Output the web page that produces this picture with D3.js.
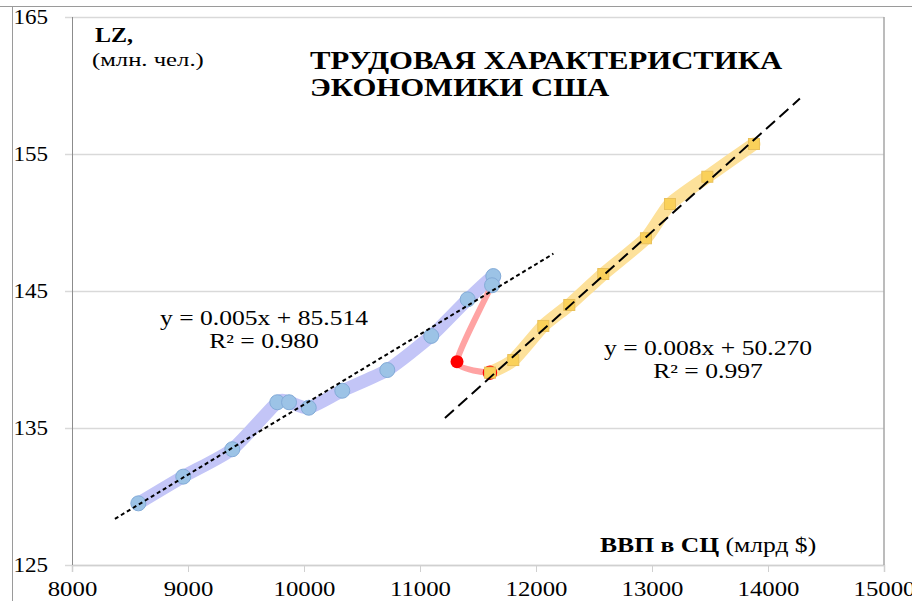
<!DOCTYPE html>
<html>
<head>
<meta charset="utf-8">
<script src="https://cdn.jsdelivr.net/npm/d3@7"></script>
<style>
  html, body { margin: 0; padding: 0; background: #fff; }
  svg { display: block; }
  text { font-family: "Liberation Serif", "Times New Roman", serif; fill: #000; }
</style>
</head>
<body>
<svg id="chart" width="912" height="601"></svg>
<script>
// ВВП (млрд $) и занятость LZ (млн. чел.)
const gdpA = [8572, 8959, 9382, 9770, 9871, 10041, 10330, 10718, 11097, 11411, 11632, 11621];
const lzA  = [129.5, 131.45, 133.45, 136.88, 136.88, 136.48, 137.72, 139.23, 141.72, 144.39, 146.09, 145.42];

const gdpCrisis = [11621, 11319, 11603];
const lzCrisis  = [145.42, 139.84, 139.04];

const gdpB = [11603, 11804, 12063, 12287, 12580, 12948, 13155, 13477, 13879];
const lzB  = [139.04, 139.96, 142.45, 143.98, 146.24, 148.85, 151.35, 153.34, 155.73];

// linear trend coefficients, R², and the x-span each trend line covers
const trendA = [0.00512, 85.514];
const trendB = [0.00762, 50.270];
const r2 = [0.980, 0.997];
const trendSpanA = [8370, 12150];
const trendSpanB = [11215, 14275];

const xTicks = [8000, 9000, 10000, 11000, 12000, 13000, 14000, 15000];
const yTicks = [125, 135, 145, 155, 165];

const svg = d3.select("#chart");
const plot = { left: 72, right: 884, top: 17, bottom: 565 };

const x = d3.scaleLinear().domain([8000, 15000]).range([plot.left, plot.right]);
const y = d3.scaleLinear().domain([125, 165]).range([plot.bottom, plot.top]);

// wide-set serif text: anchored at (px, py) and stretched horizontally by sx
function wideText(px, py, size, sx, anchor) {
  return svg.append("text")
    .attr("transform", `translate(${px},${py}) scale(${sx},1)`)
    .attr("font-size", size)
    .attr("text-anchor", anchor || "start");
}

// outer chart frame
svg.append("line").attr("x1", 0).attr("x2", 912).attr("y1", 6.5).attr("y2", 6.5)
  .attr("stroke", "#9a9a9a").attr("stroke-width", 1);
svg.append("line").attr("x1", 12.5).attr("x2", 12.5).attr("y1", 6).attr("y2", 601)
  .attr("stroke", "#9a9a9a").attr("stroke-width", 1);

// horizontal gridlines with the y axis
const ySx = 1.1;
const yAxis = d3.axisLeft(y).tickValues(yTicks).tickSize(-(plot.right - plot.left)).tickPadding(17)
  .tickFormat(d3.format("d"));
const gy = svg.append("g").attr("transform", `translate(${plot.left},0)`).call(yAxis);
gy.select(".domain").remove();
gy.selectAll(".tick line").attr("stroke", "#d9d9d9").attr("stroke-width", 1.5).attr("x1", -7);
gy.selectAll(".tick text").attr("font-size", 21).attr("fill", "#000")
  .attr("transform", `scale(${ySx},1)`).attr("x", -24 / ySx);

// x axis
const xAxis = d3.axisBottom(x).tickValues(xTicks).tickSize(7).tickPadding(9).tickFormat(d3.format("d"));
const gx = svg.append("g").attr("transform", `translate(0,${plot.bottom})`).call(xAxis);
gx.select(".domain").attr("stroke", "#d0d0d0").attr("stroke-width", 1.5);
gx.selectAll(".tick line").attr("stroke", "#d0d0d0");
gx.selectAll(".tick text").attr("font-size", 21).attr("fill", "#000")
  .attr("transform", "scale(1.18,1)");

// plot area borders
svg.append("line").attr("x1", plot.left + 0.5).attr("x2", plot.left + 0.5)
  .attr("y1", plot.top).attr("y2", plot.bottom).attr("stroke", "#8c8c8c").attr("stroke-width", 1);
svg.append("line").attr("x1", plot.right).attr("x2", plot.right)
  .attr("y1", plot.top).attr("y2", plot.bottom).attr("stroke", "#a6a6a6").attr("stroke-width", 1.5);

const smooth = d3.line().x(d => x(d[0])).y(d => y(d[1])).curve(d3.curveCardinal.tension(0.4));
const ptsA = d3.zip(gdpA, lzA);
const ptsC = d3.zip(gdpCrisis, lzCrisis);
const ptsB = d3.zip(gdpB, lzB);

// thick smoothed series bands
svg.append("path").attr("d", smooth(ptsA)).attr("fill", "none")
  .attr("stroke", "#c3c5f7").attr("stroke-width", 13).attr("stroke-linejoin", "round").attr("stroke-linecap", "round");
svg.append("path").attr("d", smooth(ptsB)).attr("fill", "none")
  .attr("stroke", "#fde19a").attr("stroke-width", 13).attr("stroke-linejoin", "round").attr("stroke-linecap", "round");
svg.append("path").attr("d", smooth(ptsC)).attr("fill", "none")
  .attr("stroke", "#ffa3a3").attr("stroke-width", 6).attr("stroke-linejoin", "round").attr("stroke-linecap", "round");

// markers
svg.append("g").selectAll("circle").data(ptsA).join("circle")
  .attr("cx", d => x(d[0])).attr("cy", d => y(d[1])).attr("r", 7.5)
  .attr("fill", "#9cc3e6").attr("stroke", "#83abd8").attr("stroke-width", 1);

svg.append("circle").attr("cx", x(gdpCrisis[1])).attr("cy", y(lzCrisis[1])).attr("r", 6.5)
  .attr("fill", "#ff0000");
svg.append("circle").attr("cx", x(gdpCrisis[2])).attr("cy", y(lzCrisis[2])).attr("r", 6.5)
  .attr("fill", "none").attr("stroke", "#ff0000").attr("stroke-width", 1.5);

const sq = 11;
svg.append("g").selectAll("rect").data(ptsB).join("rect")
  .attr("x", d => x(d[0]) - sq / 2).attr("y", d => y(d[1]) - sq / 2)
  .attr("width", sq).attr("height", sq)
  .attr("fill", "#fad15a").attr("stroke", "#e9c05a").attr("stroke-width", 1);

// trend lines
const trendLine = (c, span) => d3.line()(span.map(v => [x(v), y(c[0] * v + c[1])]));
svg.append("path").attr("d", trendLine(trendA, trendSpanA)).attr("fill", "none")
  .attr("stroke", "#000").attr("stroke-width", 2).attr("stroke-dasharray", "4,3");
svg.append("path").attr("d", trendLine(trendB, trendSpanB)).attr("fill", "none")
  .attr("stroke", "#000").attr("stroke-width", 2).attr("stroke-dasharray", "12,6");

// equation labels
const f3 = d3.format(".3f");
function eqLabel(c, r, cx, by) {
  wideText(cx, by, 20, 1.28, "middle").text(`y = ${f3(c[0])}x + ${f3(c[1])}`);
  wideText(cx, by + 23, 20, 1.28, "middle").text(`R² = ${f3(r)}`);
}
eqLabel(trendA, r2[0], 264, 325);
eqLabel(trendB, r2[1], 708, 355);

// axis captions and title
wideText(95, 42, 20, 1.2).attr("font-weight", "bold").text("LZ,");
wideText(92, 66, 19, 1.3).text("(млн. чел.)");

wideText(310, 69, 25, 1.23).attr("font-weight", "bold").text("ТРУДОВАЯ ХАРАКТЕРИСТИКА");
wideText(310, 96, 25, 1.23).attr("font-weight", "bold").text("ЭКОНОМИКИ США");

const xl = wideText(600, 552, 20, 1.28);
xl.append("tspan").attr("font-weight", "bold").text("ВВП в СЦ ");
xl.append("tspan").text("(млрд $)");
</script>
</body>
</html>
